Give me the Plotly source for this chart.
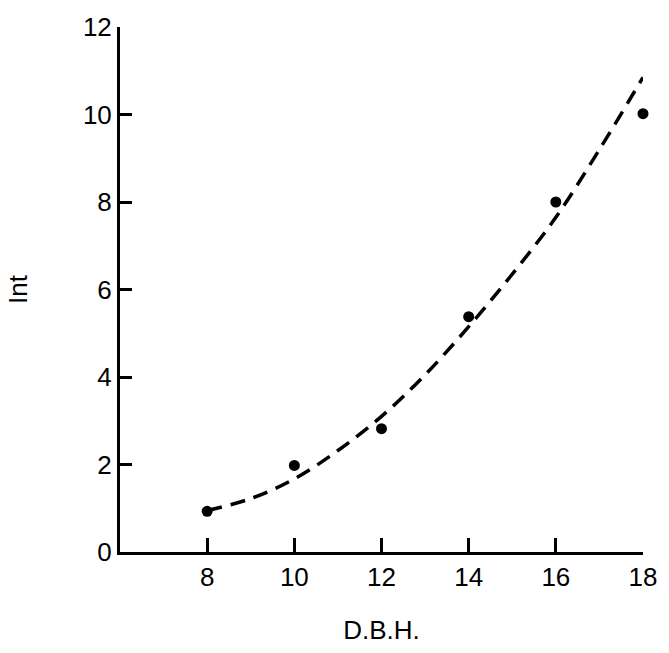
import plotly.graph_objects as go

# Observed points
dbh = [8, 10, 12, 14, 16, 18]
inc = [0.93, 1.98, 2.82, 5.38, 8.0, 10.02]

# Fitted (dashed) curve
curve_x = [8, 9, 10, 11, 12, 13, 14, 15, 16, 17, 18]
curve_y = [0.95, 1.22, 1.67, 2.32, 3.1, 4.05, 5.15, 6.35, 7.65, 9.2, 10.85]

x_ticks = [8, 10, 12, 14, 16, 18]
y_ticks = [0, 2, 4, 6, 8, 10, 12]

fig = go.Figure()
fig.add_trace(go.Scatter(
    x=curve_x, y=curve_y, mode="lines",
    line=dict(color="black", width=3.5, dash="15px,9px", shape="spline"),
    hoverinfo="skip", cliponaxis=False,
))
fig.add_trace(go.Scatter(
    x=dbh, y=inc, mode="markers",
    marker=dict(color="black", size=11),
    cliponaxis=False,
))

font = dict(family="Liberation Sans, Arial, sans-serif", size=26, color="black")

fig.update_layout(
    width=669, height=653,
    margin=dict(l=120, r=19, t=20, b=101),
    paper_bgcolor="white", plot_bgcolor="white",
    showlegend=False,
    font=font,
    xaxis=dict(
        range=[6, 18], tickvals=x_ticks, showgrid=False, zeroline=False,
        showline=True, linecolor="black", linewidth=3,
        ticks="inside", ticklen=14, tickwidth=3, tickcolor="black",
        title=dict(text="D.B.H.", standoff=30, font=font),
        tickfont=font,
    ),
    yaxis=dict(
        range=[0, 12], tickvals=y_ticks, showgrid=False, zeroline=False,
        showline=True, linecolor="black", linewidth=3,
        ticks="inside", ticklen=12, tickwidth=3, tickcolor="black",
        title=dict(text="Int", standoff=48, font=font),
        tickfont=font,
    ),
)

fig.write_html("out.html")
